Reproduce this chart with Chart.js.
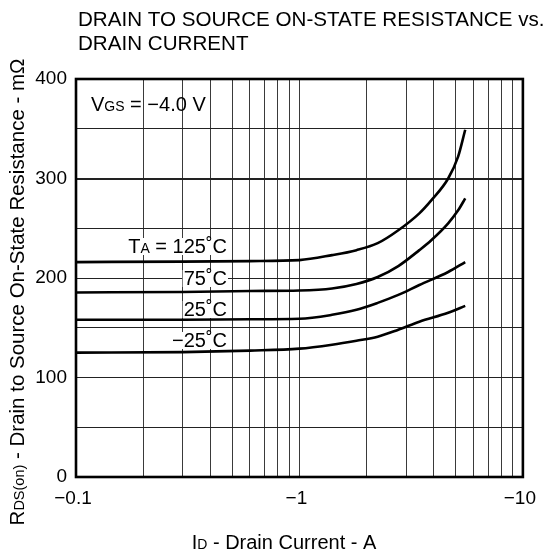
<!DOCTYPE html>
<html>
<head>
<meta charset="utf-8">
<script src="https://cdn.jsdelivr.net/npm/chart.js@4"></script>
<style>
  html, body { margin: 0; padding: 0; background: #fff; }
  #wrap { width: 549px; height: 555px; }
</style>
</head>
<body>
<div id="wrap"><canvas id="grafico" width="549" height="555"></canvas></div>
<script>
// Corriente de drenaje (magnitud, A) y resistencia (mΩ) por temperatura
const corriente125 = [0.1, 0.3, 0.6, 1.0, 1.4, 1.8, 2.24, 2.77, 3.44, 3.89, 4.63, 5.13, 5.52];
const rds125       = [216, 216.5, 217, 218, 223, 228, 235, 248, 265, 278, 300, 322, 349];

const corriente75 = [0.1, 0.3, 0.6, 1.0, 1.4, 1.8, 2.24, 2.77, 3.44, 3.89, 4.63, 5.13, 5.52];
const rds75       = [185.5, 186, 187, 187.5, 189.5, 194, 201, 212, 228, 238, 255, 268, 280];

const corriente25 = [0.1, 0.3, 0.6, 1.0, 1.4, 1.8, 2.24, 2.77, 3.44, 4.63, 5.52];
const rds25       = [158, 158, 158.5, 159, 163, 168, 175, 183, 193, 206, 216];

const corrienteM25 = [0.1, 0.3, 0.6, 1.0, 1.4, 1.8, 2.24, 2.77, 3.44, 4.63, 5.52];
const rdsM25       = [125, 125.5, 127, 129, 133, 137, 141, 148, 156, 165, 172];

const ticksY = [0, 100, 200, 300, 400];
const ticksX = [0.1, 1, 10];

const fuente = '"Liberation Sans", Arial, sans-serif';

function puntos(xs, ys) {
    return xs.map((x, i) => ({ x: x, y: ys[i] }));
}

function serie(etiqueta, xs, ys) {
    return {
        label: etiqueta,
        data: puntos(xs, ys),
        borderColor: '#000',
        borderWidth: 2.6,
        pointRadius: 0,
        fill: false,
        cubicInterpolationMode: 'monotone'
    };
}

// Texto con partes pequeñas (subíndices)
function textoMixto(ctx, partes, x, y, alinear) {
    let ancho = 0;
    partes.forEach(p => {
        ctx.font = p[1] + 'px ' + fuente;
        ancho += ctx.measureText(p[0]).width;
    });
    let xi = alinear === 'right' ? x - ancho : (alinear === 'center' ? x - ancho / 2 : x);
    ctx.textBaseline = 'alphabetic';
    ctx.textAlign = 'left';
    partes.forEach(p => {
        ctx.font = p[1] + 'px ' + fuente;
        ctx.fillText(p[0], xi, y);
        xi += ctx.measureText(p[0]).width;
    });
}

const anotaciones = {
    id: 'anotaciones',
    afterDatasetsDraw(chart) {
        const ctx = chart.ctx;
        const area = chart.chartArea;
        ctx.save();
        // marco
        ctx.strokeStyle = '#000';
        ctx.lineWidth = 2.6;
        ctx.strokeRect(area.left, area.top, area.right - area.left, area.bottom - area.top);

        const etiquetas = [
            { partes: [['T', 20], ['A', 14], [' = 125˚C', 20]], y: 253 },
            { partes: [['75˚C', 20]], y: 285 },
            { partes: [['25˚C', 20]], y: 316 },
            { partes: [['−25˚C', 20]], y: 347 }
        ];
        etiquetas.forEach(e => {
            let ancho = 0;
            e.partes.forEach(p => { ctx.font = p[1] + 'px ' + fuente; ancho += ctx.measureText(p[0]).width; });
            ctx.fillStyle = '#fff';
            ctx.fillRect(227 - ancho - 1, e.y - 15, ancho + 2, 17);
            ctx.fillStyle = '#000';
            textoMixto(ctx, e.partes, 227, e.y, 'right');
        });
        textoMixto(ctx, [['V', 20], ['GS', 14], [' = −4.0 V', 20]], 91, 111, 'left');
        ctx.restore();
    },
    afterDraw(chart) {
        const ctx = chart.ctx;
        ctx.save();
        ctx.fillStyle = '#000';
        ctx.font = '20.6px ' + fuente;
        ctx.textAlign = 'left';
        ctx.textBaseline = 'alphabetic';
        ctx.fillText('DRAIN TO SOURCE ON-STATE RESISTANCE vs.', 78, 26);
        ctx.fillText('DRAIN CURRENT', 78, 50);
        textoMixto(ctx, [['I', 20], ['D', 14], [' - Drain Current - A', 20]], 284, 549, 'center');
        ctx.translate(24, 292);
        ctx.rotate(-Math.PI / 2);
        textoMixto(ctx, [['R', 20.5], ['DS(on)', 14.5], [' - Drain to Source On-State Resistance - mΩ', 20.5]], 0, 0, 'center');
        ctx.restore();
    }
};

const ctx = document.getElementById('grafico').getContext('2d');
const miGrafico = new Chart(ctx, {
    type: 'line',
    data: {
        datasets: [
            serie('125˚C', corriente125, rds125),
            serie('75˚C', corriente75, rds75),
            serie('25˚C', corriente25, rds25),
            serie('−25˚C', corrienteM25, rdsM25)
        ]
    },
    options: {
        responsive: false,
        animation: false,
        layout: { padding: { left: 0, right: 24, top: 79, bottom: 0 } },
        plugins: { legend: { display: false }, tooltip: { enabled: false } },
        scales: {
            x: {
                type: 'logarithmic',
                min: 0.1,
                max: 10,
                afterBuildTicks(escala) {
                    const t = [];
                    [0.1, 1].forEach(d => {
                        for (let k = 1; k <= 9; k++) t.push({ value: +(d * k).toFixed(2) });
                    });
                    t.push({ value: 10 });
                    escala.ticks = t;
                },
                afterFit(escala) { escala.height = 78; },
                grid: { color: '#3a3a3a', lineWidth: 1, drawTicks: false },
                border: { display: false },
                ticks: {
                    autoSkip: false,
                    maxRotation: 0,
                    padding: 10,
                    labelOffset: -3,
                    color: '#000',
                    font: { family: fuente, size: 19 },
                    callback(v) { return ticksX.includes(v) ? '−' + v : ''; }
                }
            },
            y: {
                min: 0,
                max: 400,
                afterFit(escala) { escala.width = 76; },
                grid: {
                    color: '#222',
                    lineWidth(c) { return c.tick && c.tick.value === 300 ? 2 : 1; },
                    drawTicks: false
                },
                border: { display: false },
                ticks: {
                    stepSize: 50,
                    padding: 9,
                    color: '#000',
                    font: { family: fuente, size: 19 },
                    callback(v) { return ticksY.includes(v) ? String(v) : ''; }
                }
            }
        }
    },
    plugins: [anotaciones]
});
</script>
</body>
</html>
